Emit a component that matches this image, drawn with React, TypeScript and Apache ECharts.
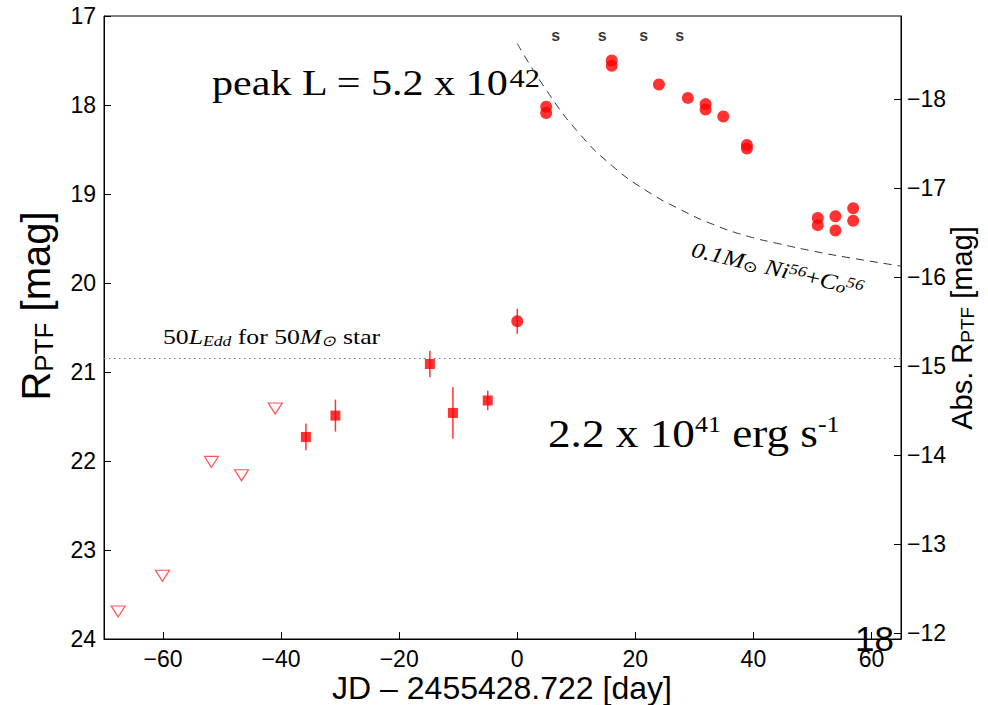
import React, { useEffect, useRef } from 'react';
import * as echarts from 'echarts';

// ---- axis ticks ----
const xTickValues = [-60, -40, -20, 0, 20, 40, 60];
const absTickValues = [-18, -17, -16, -15, -14, -13, -12];
const distanceModulus = 35.93;

// ---- data (days since JD 2455428.722, R_PTF mag) ----
const limitDays = [-67.6, -60.1, -51.8, -46.7, -41.0];
const limitMags = [23.69, 23.29, 22.01, 22.16, 21.41];

const preDays = [-35.8, -30.8, -14.8, -10.9, -5.0];
const preMags = [21.73, 21.49, 20.91, 21.46, 21.32];
const preErrs = [0.15, 0.18, 0.15, 0.29, 0.11];

const firstDays = [0];
const firstMags = [20.43];
const firstErrs = [0.14];

const snDays = [4.9, 4.9, 16.0, 16.0, 24.0, 28.9, 31.9, 31.9, 34.9, 38.9, 38.9, 50.9, 50.9, 53.9, 53.9, 56.9, 56.9];
const snMags = [18.02, 18.09, 17.50, 17.56, 17.77, 17.92, 17.99, 18.05, 18.13, 18.45, 18.49, 19.27, 19.35, 19.25, 19.41, 19.16, 19.30];

const spectraDays = [6.5, 14.4, 21.4, 27.5];
const spectraMag = 17.22;

const decayDays = [0, 4.9, 10.5, 16.2, 21.8, 27.5, 33.1, 38.8, 44.4, 50.0, 55.7, 65];
const decayMags = [17.31, 17.83, 18.32, 18.69, 18.96, 19.17, 19.34, 19.47, 19.56, 19.64, 19.71, 19.81];

const eddingtonMag = 20.845;

const RED = '#ff0000';
const SANS = 'Liberation Sans, Arial, Helvetica, sans-serif';
const SERIF = 'Liberation Serif, Times New Roman, serif';

const minusFmt = (v: number) => (v < 0 ? '\u2212' + Math.abs(v) : String(v));

export default function App() {
  const ref = useRef<HTMLDivElement>(null);

  useEffect(() => {
    if (!ref.current) return;
    const chart = echarts.init(ref.current, undefined, { renderer: 'svg' });

    const errData = [
      ...preDays.map((d, i) => [d, preMags[i] - preErrs[i], preMags[i] + preErrs[i]]),
      ...firstDays.map((d, i) => [d, firstMags[i] - firstErrs[i], firstMags[i] + firstErrs[i]]),
    ];

    const option: any = {
      animation: false,
      backgroundColor: '#ffffff',
      grid: {
        left: 104,
        right: 87,
        top: 16,
        bottom: 66,
        show: true,
        borderColor: '#000',
        borderWidth: 1,
        backgroundColor: 'transparent',
      },
      xAxis: {
        type: 'value',
        min: -70,
        max: 65,
        axisLine: { show: true, onZero: false, lineStyle: { color: '#000', width: 1 } },
        axisTick: { show: true, inside: true, length: 7, customValues: xTickValues, lineStyle: { color: '#000' } },
        axisLabel: {
          customValues: xTickValues,
          formatter: minusFmt,
          fontSize: 23,
          lineHeight: 23,
          color: '#000',
          margin: 8,
          fontFamily: SANS,
        },
        splitLine: { show: false },
      },
      yAxis: [
        {
          type: 'value',
          min: 17,
          max: 24,
          interval: 1,
          inverse: true,
          position: 'left',
          axisLine: { show: true, onZero: false, lineStyle: { color: '#000', width: 1 } },
          axisTick: { show: true, inside: true, length: 7, lineStyle: { color: '#000' } },
          axisLabel: { fontSize: 23, color: '#000', margin: 8, fontFamily: SANS },
          splitLine: { show: false },
        },
        {
          type: 'value',
          min: 17 - distanceModulus,
          max: 24 - distanceModulus,
          inverse: true,
          position: 'right',
          axisLine: { show: true, onZero: false, lineStyle: { color: '#000', width: 1 } },
          axisTick: { show: true, inside: true, length: 7, customValues: absTickValues, lineStyle: { color: '#000' } },
          axisLabel: {
            customValues: absTickValues,
            formatter: minusFmt,
            fontSize: 23,
            color: '#000',
            margin: 6,
            fontFamily: SANS,
          },
          splitLine: { show: false },
        },
      ],
      series: [
        {
          name: 'Ni-Co decay',
          type: 'line',
          data: decayDays.map((d, i) => [d, decayMags[i]]),
          smooth: 0.5,
          symbol: 'none',
          lineStyle: { color: '#333', width: 1, type: [8, 6] },
          z: 1,
          markLine: {
            silent: true,
            symbol: ['none', 'none'],
            label: { show: false },
            lineStyle: { color: '#777', width: 1, type: [1.5, 3.5] },
            data: [{ yAxis: eddingtonMag }],
          },
        },
        {
          name: 'errors',
          type: 'custom',
          data: errData,
          z: 2,
          renderItem: (_params: any, api: any) => {
            const t = api.value(0);
            const p1 = api.coord([t, api.value(1)]);
            const p2 = api.coord([t, api.value(2)]);
            return {
              type: 'line',
              shape: { x1: p1[0], y1: p1[1], x2: p2[0], y2: p2[1] },
              style: { stroke: '#ff3333', lineWidth: 1.5 },
            };
          },
        },
        {
          name: 'upper limits',
          type: 'scatter',
          data: limitDays.map((d, i) => [d, limitMags[i]]),
          symbol: 'triangle',
          symbolRotate: 180,
          symbolSize: [14, 11],
          itemStyle: { color: 'rgba(255,255,255,0)', borderColor: '#ff2a2a', borderWidth: 1.2 },
          z: 3,
        },
        {
          name: 'precursor',
          type: 'scatter',
          data: preDays.map((d, i) => [d, preMags[i]]),
          symbol: 'rect',
          symbolSize: 10,
          itemStyle: { color: RED },
          z: 3,
        },
        {
          name: 'first',
          type: 'scatter',
          data: firstDays.map((d, i) => [d, firstMags[i]]),
          symbol: 'circle',
          symbolSize: 12,
          itemStyle: { color: RED },
          z: 3,
        },
        {
          name: 'SN',
          type: 'scatter',
          data: snDays.map((d, i) => [d, snMags[i]]),
          symbol: 'circle',
          symbolSize: 12,
          itemStyle: { color: RED },
          z: 3,
        },
        {
          name: 'spectra',
          type: 'scatter',
          data: spectraDays.map((d) => [d, spectraMag]),
          symbol: 'circle',
          symbolSize: 1,
          itemStyle: { color: 'rgba(0,0,0,0)' },
          label: {
            show: true,
            position: 'inside',
            formatter: 's',
            color: '#000',
            fontSize: 16,
            fontWeight: 'bold',
            fontFamily: SANS,
          },
          z: 4,
        },
      ],
      graphic: [
        {
          type: 'text',
          x: 212,
          y: 83,
          scaleX: 1.17,
          style: {
            text: '{a|peak L = 5.2 x 10}{b|42}',
            align: 'left',
            verticalAlign: 'middle',
            fill: '#000',
            rich: {
              a: { fontSize: 36, fontFamily: SERIF, fill: '#000', lineHeight: 36 },
              b: { fontSize: 26, fontFamily: SERIF, fill: '#000', verticalAlign: 'top', lineHeight: 26 },
            },
          },
        },
        {
          type: 'text',
          x: 548,
          y: 433,
          scaleX: 1.13,
          style: {
            text: '{a|2.2 x 10}{b|41}{a| erg s}{b|-1}',
            align: 'left',
            verticalAlign: 'middle',
            fill: '#000',
            rich: {
              a: { fontSize: 40, fontFamily: SERIF, fill: '#000', lineHeight: 40 },
              b: { fontSize: 23, fontFamily: SERIF, fill: '#000', verticalAlign: 'top', lineHeight: 23 },
            },
          },
        },
        {
          type: 'text',
          x: 163,
          y: 337,
          scaleX: 1.17,
          style: {
            text: '{n|50}{i|L}{s|Edd}{n| for 50}{i|M}{s|\u2299}{n| star}',
            align: 'left',
            verticalAlign: 'middle',
            fill: '#000',
            rich: {
              n: { fontSize: 22, fontFamily: SERIF, fill: '#000' },
              i: { fontSize: 22, fontFamily: SERIF, fontStyle: 'italic', fill: '#000' },
              s: { fontSize: 15, fontFamily: SERIF, fontStyle: 'italic', fill: '#000', verticalAlign: 'bottom', padding: [7, 0, 0, 0] },
            },
          },
        },
        {
          type: 'text',
          x: 692,
          y: 249,
          rotation: -0.23,
          scaleX: 1.17,
          style: {
            text: '{i|0.1M}{s|\u2299}{i| Ni}{p|56}{n|+}{i|C}{o|o}{p|56}',
            align: 'left',
            verticalAlign: 'middle',
            fill: '#000',
            rich: {
              i: { fontSize: 22, fontFamily: SERIF, fontStyle: 'italic', fill: '#000' },
              n: { fontSize: 22, fontFamily: SERIF, fill: '#000' },
              o: { fontSize: 16, fontFamily: SERIF, fontStyle: 'italic', fill: '#000', verticalAlign: 'bottom' },
              s: { fontSize: 15, fontFamily: SERIF, fill: '#000', verticalAlign: 'bottom', padding: [7, 0, 0, 0] },
              p: { fontSize: 15, fontFamily: SERIF, fontStyle: 'italic', fill: '#000', verticalAlign: 'top' },
            },
          },
        },
        {
          type: 'text',
          x: 502,
          y: 688,
          style: {
            text: 'JD \u2013 2455428.722 [day]',
            align: 'center',
            verticalAlign: 'middle',
            fontSize: 32,
            lineHeight: 32,
            fontFamily: SANS,
            fill: '#000',
          },
        },
        {
          type: 'text',
          x: 36,
          y: 306,
          rotation: Math.PI / 2,
          style: {
            text: '{r|R}{s|PTF}{r| [mag]}',
            align: 'center',
            verticalAlign: 'middle',
            fill: '#000',
            rich: {
              r: { fontSize: 40, fontFamily: SANS, fill: '#000' },
              s: { fontSize: 26, fontFamily: SANS, fill: '#000', verticalAlign: 'bottom', padding: [15, 0, 0, 0] },
            },
          },
        },
        {
          type: 'text',
          x: 962,
          y: 328,
          rotation: Math.PI / 2,
          style: {
            text: '{r|Abs. R}{s|PTF}{r| [mag]}',
            align: 'center',
            verticalAlign: 'middle',
            fill: '#000',
            rich: {
              r: { fontSize: 29, fontFamily: SANS, fill: '#000' },
              s: { fontSize: 19, fontFamily: SANS, fill: '#000', verticalAlign: 'bottom', padding: [11, 0, 0, 0] },
            },
          },
        },
        {
          type: 'text',
          x: 855,
          y: 638,
          style: {
            text: '18',
            align: 'left',
            verticalAlign: 'middle',
            fontSize: 35,
            fontFamily: SANS,
            fill: '#000',
          },
        },
      ],
    };

    chart.setOption(option);
    return () => chart.dispose();
  }, []);

  return (
    <div
      ref={ref}
      style={{ position: 'fixed', left: 0, top: 0, width: 988, height: 705, background: '#fff' }}
    />
  );
}
